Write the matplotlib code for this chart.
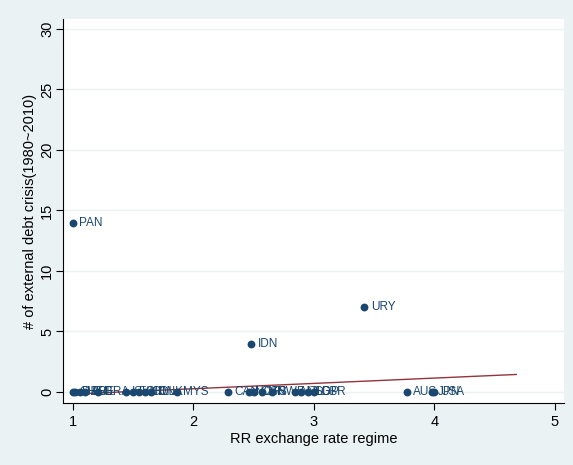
import numpy as np
import matplotlib
matplotlib.use("Agg")
import matplotlib.pyplot as plt

plt.rcParams["font.family"] = ["Liberation Sans", "DejaVu Sans"]

# data
countries = ["PAN", "URY", "IDN",
             "CHE", "DEU", "HKG", "ARE", "BRA",
             "ISL", "FIN", "CHL", "COL", "DNK", "MYS",
             "CAN", "NOR", "CHN", "ISR", "SWE",
             "NZL", "NLD", "SGP", "GBR",
             "AUS", "JPN", "USA"]
regime = [1.0, 3.42, 2.48,
          1.0, 1.02, 1.06, 1.1, 1.21,
          1.44, 1.5, 1.55, 1.6, 1.65, 1.86,
          2.29, 2.46, 2.5, 2.57, 2.65,
          2.84, 2.89, 2.95, 3.0,
          3.77, 3.98, 4.0]
crises = [14, 7, 4,
          0, 0, 0, 0, 0,
          0, 0, 0, 0, 0, 0,
          0, 0, 0, 0, 0,
          0, 0, 0, 0,
          0, 0, 0]

# fitted line (value at x=1, slope) and its x range
fit_range = [1.0, 4.68]
fit_at_one = -0.17
fit_slope = 0.44

navy = "#1A476F"
bg = "#EAF2F3"

fig = plt.figure(figsize=(5.73, 4.65), dpi=100, facecolor=bg)
ax = fig.add_axes([0.110, 0.1333, 0.874, 0.826])
ax.set_facecolor("white")

ax.scatter(regime, crises, s=32, color=navy, zorder=3, linewidths=0)
for name, x, y in zip(countries, regime, crises):
    ax.annotate(name, (x, y), xytext=(4.5, 0), textcoords="offset points",
                va="center", ha="left", fontsize=8.5, color=navy, zorder=4)

fx = np.array(fit_range)
fy = fit_at_one + fit_slope * (fx - 1.0)
ax.plot(fx, fy, color="#90353B", lw=1.0, zorder=2)

ax.set_xlim(0.917, 5.075)
ax.set_ylim(-0.91, 30.83)
ax.set_xticks([1, 2, 3, 4, 5])
ax.set_yticks([0, 5, 10, 15, 20, 25, 30])
ax.yaxis.grid(True, color=bg, lw=1.0)
ax.set_axisbelow(True)
for s in ["top", "right"]:
    ax.spines[s].set_visible(False)
for s in ["left", "bottom"]:
    ax.spines[s].set_color("black")
    ax.spines[s].set_linewidth(0.8)
ax.tick_params(direction="out", length=5, width=0.8, labelsize=10.5, colors="black")
ax.tick_params(axis="y", pad=1.5)
plt.setp(ax.get_yticklabels(), rotation=90, va="center")

ax.set_xlabel("RR exchange rate regime", fontsize=10.5, labelpad=2)
ax.set_ylabel("# of external debt crisis(1980~2010)", fontsize=10.5, labelpad=2)

fig.savefig("out.png", dpi=100, facecolor=bg)
